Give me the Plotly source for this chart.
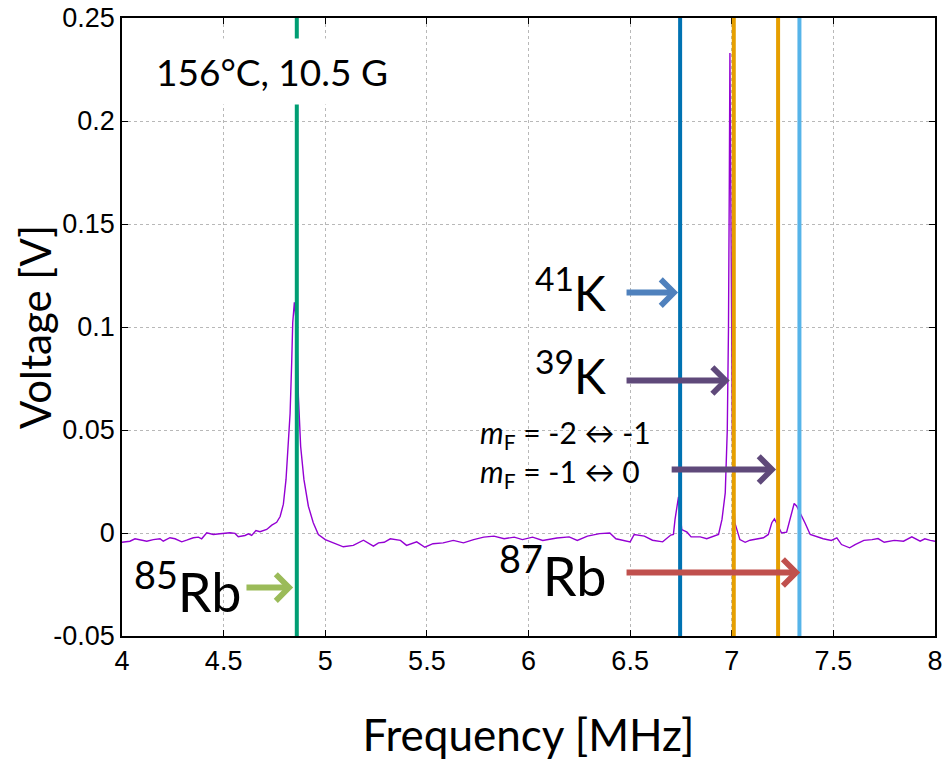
import plotly.graph_objects as go

# Measured spectrum: RF frequency [MHz] vs. photodiode voltage [V]
freq = [
    4.000, 4.039, 4.064, 4.089, 4.122, 4.154, 4.187, 4.203, 4.236, 4.261,
    4.294, 4.318, 4.351, 4.376, 4.392, 4.417, 4.449, 4.482, 4.531, 4.556,
    4.572, 4.605, 4.622, 4.638, 4.659, 4.679, 4.712, 4.737, 4.761, 4.778,
    4.794, 4.807, 4.818, 4.827, 4.835, 4.840, 4.848, 4.860, 4.868, 4.879,
    4.895, 4.917, 4.941, 4.966, 5.000, 5.040, 5.089, 5.138, 5.188, 5.237,
    5.262, 5.290, 5.320, 5.370, 5.400, 5.450, 5.490, 5.530, 5.580, 5.630,
    5.680, 5.730, 5.780, 5.830, 5.880, 5.930, 5.970, 6.020, 6.070, 6.140,
    6.200, 6.240, 6.290, 6.350, 6.400, 6.430, 6.470, 6.500, 6.520, 6.570,
    6.610, 6.660, 6.700, 6.713, 6.721, 6.738, 6.754, 6.780, 6.800, 6.845,
    6.877, 6.910, 6.935, 6.952, 6.968, 6.978, 6.984, 6.988, 6.991, 6.995,
    6.999, 7.003, 7.008, 7.015, 7.040, 7.066, 7.090, 7.123, 7.156, 7.180,
    7.197, 7.210, 7.230, 7.245, 7.270, 7.290, 7.307, 7.320, 7.337, 7.360,
    7.386, 7.420, 7.450, 7.490, 7.517, 7.540, 7.580, 7.607, 7.650, 7.690,
    7.720, 7.750, 7.800, 7.845, 7.886, 7.927, 7.950, 7.977, 8.000,
]
voltage = [
    -0.0045, -0.0040, -0.0028, -0.0032, -0.0040, -0.0032, -0.0028, -0.0040, -0.0023, -0.0028,
    -0.0043, -0.0035, -0.0023, -0.0020, -0.0028, 0.0001, -0.0007, -0.0004, 0.0001, -0.0002,
    -0.0018, -0.0012, -0.0004, -0.0012, 0.0012, 0.0006, 0.0017, 0.0038, 0.0052, 0.0080,
    0.0140, 0.0260, 0.0420, 0.0580, 0.0830, 0.1020, 0.1120, 0.0990, 0.0660, 0.0420,
    0.0260, 0.0130, 0.0050, -0.0007, -0.0032, -0.0048, -0.0067, -0.0060, -0.0035, -0.0064,
    -0.0048, -0.0045, -0.0028, -0.0036, -0.0060, -0.0043, -0.0069, -0.0052, -0.0048, -0.0036,
    -0.0048, -0.0032, -0.0020, -0.0015, -0.0028, -0.0020, -0.0032, -0.0020, -0.0036, -0.0024,
    -0.0019, -0.0036, -0.0015, -0.0003, 0.0000, -0.0028, -0.0036, -0.0043, -0.0007, -0.0015,
    -0.0035, -0.0043, -0.0010, -0.0007, 0.0066, 0.0176, 0.0017, 0.0004, -0.0019, -0.0019,
    -0.0028, -0.0015, -0.0007, 0.0066, 0.0195, 0.0500, 0.1000, 0.1700, 0.2330, 0.1700,
    0.1000, 0.0500, 0.0200, 0.0050, -0.0032, -0.0045, -0.0035, -0.0028, -0.0023, -0.0007,
    0.0050, 0.0069, 0.0033, 0.0000, 0.0004, 0.0080, 0.0143, 0.0130, 0.0098, 0.0050,
    -0.0007, -0.0020, -0.0028, -0.0036, -0.0024, -0.0056, -0.0072, -0.0056, -0.0036, -0.0032,
    -0.0027, -0.0045, -0.0036, -0.0040, -0.0019, -0.0040, -0.0028, -0.0036, -0.0040,
]

# Expected resonance positions [MHz] and their colours
marker_freqs = [4.860, 6.746, 7.010, 7.228, 7.333]
marker_colors = ["#009E73", "#0072B2", "#E69F00", "#E69F00", "#56B4E9"]

# Isotope labels and the arrows pointing at their resonances
species_labels = ["<sup>41</sup>K", "<sup>39</sup>K", "<sup>85</sup>Rb", "<sup>87</sup>Rb"]
label_sizes = [48, 48, 54, 54]
label_x = [6.392, 6.392, 4.600, 6.395]
label_y = [0.118, 0.078, -0.0265, -0.019]
arrow_tail_x = [6.475, 6.475, 4.605, 6.475]
arrow_head_x = [6.736, 6.990, 4.842, 7.337]
arrow_y = [0.1167, 0.0740, -0.0265, -0.0192]
arrow_colors = ["#4F81BD", "#5F497A", "#9BBB59", "#C0504D"]

# Zeeman sub-transitions of 39K, drawn as one two-line block
mf_text = "<i>m</i><sub>F</sub> = -2 ↔ -1<br><i>m</i><sub>F</sub> = -1 ↔ 0"
mf_x = 5.752
mf_y = 0.0385
mf_arrow = (6.697, 7.218, 0.0308)

x_ticks = [4, 4.5, 5, 5.5, 6, 6.5, 7, 7.5, 8]
y_ticks = [-0.05, 0, 0.05, 0.1, 0.15, 0.2, 0.25]

fig = go.Figure()
fig.add_trace(go.Scatter(
    x=freq, y=voltage, mode="lines",
    line=dict(color="#9400D3", width=1.4),
    hoverinfo="skip", showlegend=False,
))

for f, c in zip(marker_freqs, marker_colors):
    fig.add_shape(type="line", xref="x", yref="paper", x0=f, x1=f, y0=0, y1=1,
                  line=dict(color=c, width=4), layer="above")

annotations = []
for txt, sz, lx, ly, tx, hx, ay, col in zip(species_labels, label_sizes, label_x, label_y,
                                             arrow_tail_x, arrow_head_x, arrow_y, arrow_colors):
    annotations.append(dict(x=lx, y=ly, xref="x", yref="y", text=txt, showarrow=False,
                            xanchor="right", yanchor="middle",
                            font=dict(family="Lato", size=sz, color="black")))
    annotations.append(dict(x=hx, y=ay, ax=tx, ay=ay, xref="x", yref="y", axref="x", ayref="y",
                            text="", showarrow=True, arrowhead=4, arrowsize=0.85,
                            arrowwidth=6, arrowcolor=col))

annotations.append(dict(x=mf_x, y=mf_y, xref="x", yref="y", text=mf_text, showarrow=False,
                        xanchor="left", yanchor="middle", align="left",
                        font=dict(family="Lato", size=30, color="black")))
annotations.append(dict(x=mf_arrow[1], y=mf_arrow[2], ax=mf_arrow[0], ay=mf_arrow[2],
                        xref="x", yref="y", axref="x", ayref="y", text="", showarrow=True,
                        arrowhead=4, arrowsize=0.85, arrowwidth=6, arrowcolor="#5F497A"))

annotations.append(dict(x=4.738, y=0.224, xref="x", yref="y", text="156°C, 10.5 G",
                        showarrow=False, xanchor="center", yanchor="middle",
                        bgcolor="white", borderpad=10,
                        font=dict(family="Lato", size=37, color="black")))

# Vertical axis title, placed in paper coordinates
annotations.append(dict(x=-0.107, y=0.5, xref="paper", yref="paper", text="Voltage [V]",
                        textangle=-90, showarrow=False, xanchor="center", yanchor="middle",
                        font=dict(family="Lato", size=42, color="black")))

axis_common = dict(
    showline=True, linecolor="black", linewidth=1.6, mirror="allticks",
    ticks="inside", ticklen=6, tickcolor="black", tickwidth=1,
    showgrid=True, gridcolor="#b8b8b8", griddash="dot", gridwidth=1,
    zeroline=False, automargin=False,
    tickfont=dict(family="Liberation Sans", size=27, color="black"),
)

fig.update_layout(
    width=947, height=760,
    margin=dict(l=122, r=12, t=18, b=124),
    paper_bgcolor="white", plot_bgcolor="white",
    annotations=annotations,
    xaxis=dict(range=[4, 8], tickvals=x_ticks, ticktext=[f"{v:g}" for v in x_ticks],
               title=dict(text="Frequency [MHz]", standoff=48,
                          font=dict(family="Lato", size=44, color="black")),
               **axis_common),
    yaxis=dict(range=[-0.05, 0.25], tickvals=y_ticks, ticktext=[f"{v:g}" for v in y_ticks],
               **axis_common),
)

fig.write_html("out.html")
